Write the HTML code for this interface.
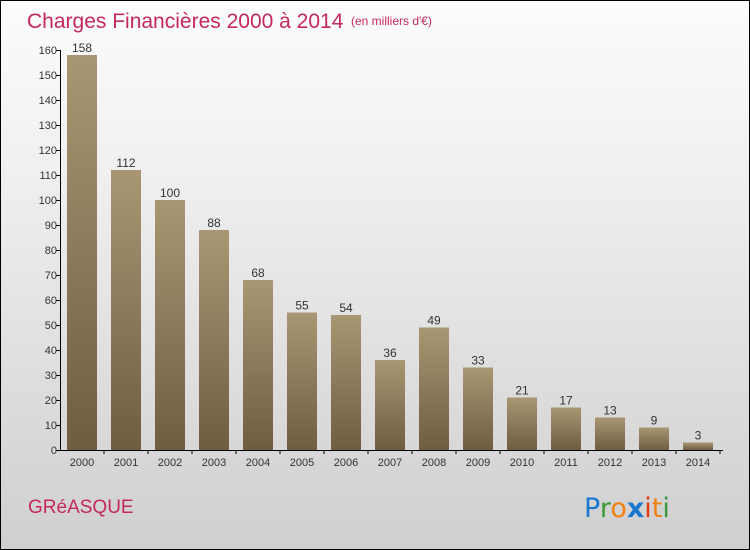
<!DOCTYPE html>
<html><head><meta charset="utf-8"><style>
body{margin:0}
#c{width:748px;height:548px;border:1px solid #000;position:relative;background:linear-gradient(#fcfcfc,#f0f0f0 30%,#cfcfcf);font-family:"Liberation Sans",sans-serif;overflow:hidden}
</style></head><body>
<div id="c">
<svg id="s" width="748" height="548">
<defs><linearGradient id="g" x1="0" y1="0" x2="0" y2="1"><stop offset="0" stop-color="#a99674"/><stop offset="1" stop-color="#6f5d40"/></linearGradient></defs>
<text x="26" y="27" font-size="21" fill="#c4285c">Charges Financières 2000 à 2014</text>
<text x="350" y="24" font-size="12" fill="#c4285c">(en milliers d'€)</text>
<text x="27" y="512" font-size="19" fill="#c4285c">GRéASQUE</text>
<g font-size="27" font-family="'DejaVu Sans',sans-serif">
<text x="583" y="516"><tspan fill="#1a78d0">P</tspan><tspan fill="#3a9a3a">r</tspan><tspan fill="#f08010">o</tspan><tspan fill="#1a78d0" font-weight="bold">x</tspan><tspan fill="#e03a10">i</tspan><tspan fill="#f08010">t</tspan><tspan fill="#3a9a3a">i</tspan></text></g>
<g id="bars"></g><g id="axis"></g>
</svg></div>
<script>
const years=["2000","2001","2002","2003","2004","2005","2006","2007","2008","2009","2010","2011","2012","2013","2014"];
const values=[158,112,100,88,68,55,54,36,49,33,21,17,13,9,3];
const ticks=[0,10,20,30,40,50,60,70,80,90,100,110,120,130,140,150,160];
const NS="http://www.w3.org/2000/svg";
const y=v=>449-v*2.5, x=i=>81+i*44;
const bars=document.getElementById('bars'), ax=document.getElementById('axis');
function mk(t,a,p){const e=document.createElementNS(NS,t);for(const k in a)e.setAttribute(k,a[k]);p.appendChild(e);return e;}
values.forEach((v,i)=>{
 const r=mk('rect',{x:x(i)-15,y:y(v),width:30,height:449-y(v),fill:'url(#g)'},bars);
 
 
 const t=mk('text',{x:x(i),y:y(v)-3,'text-anchor':'middle','font-size':12,fill:'#333'},bars);t.textContent=v;
 
 
 const l=mk('text',{x:x(i),y:465,'text-anchor':'middle','font-size':11,fill:'#333'},ax);l.textContent=years[i];
 
 
 mk('line',{x1:x(i)+22,x2:x(i)+22,y1:449,y2:453,stroke:'#000'},ax);
});
mk('line',{x1:59.5,x2:59.5,y1:y(160),y2:449,stroke:'#000'},ax);
mk('line',{x1:59.5,x2:722,y1:449.5,y2:449.5,stroke:'#000'},ax);
ticks.forEach(v=>{
 mk('line',{x1:55,x2:60,y1:y(v)+.5,y2:y(v)+.5,stroke:'#000'},ax);
 const t=mk('text',{x:56,y:y(v)+4,'text-anchor':'end','font-size':11,fill:'#333'},ax);t.textContent=v;
 
 
});
</script></body></html>
